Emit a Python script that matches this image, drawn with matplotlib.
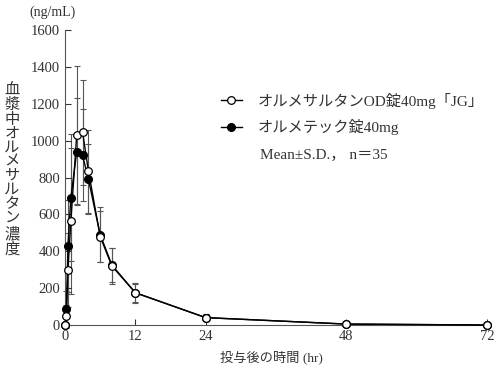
import matplotlib
matplotlib.use("Agg")
import matplotlib.pyplot as plt

plt.rcParams['font.family'] = ['Liberation Serif', 'Noto Sans CJK JP']

# 時間 (hr)
hours = [0, 0.25, 0.5, 1, 2, 3, 4, 6, 8, 12, 24, 48, 72]

# オルメサルタンOD錠40mg「JG」
odMean = [0, 50, 300, 565, 1030, 1045, 835, 480, 320, 175, 40, 5, 0]
odSd = [0, 60, 200, 395, 375, 283, 225, 140, 95, 55, 18, 4, 0]

# オルメテック錠40mg
refMean = [0, 85, 430, 690, 940, 920, 790, 490, 325, 175, 40, 5, 0]
refSd = [0, 100, 250, 345, 290, 250, 190, 150, 90, 50, 18, 4, 0]

xTicks = [0, 12, 24, 48, 72]
yTicks = [0, 200, 400, 600, 800, 1000, 1200, 1400, 1600]

textColor = "#333333"

fig = plt.figure(figsize=(4.96, 3.76), dpi=100)
ax = fig.add_axes([65 / 496, 51 / 376, 422 / 496, 295 / 376])

errStyle = dict(ecolor="#555555", elinewidth=0.8, capsize=2.5, capthick=0.8, fmt="none", zorder=1)
ax.errorbar(hours, refMean, yerr=refSd, **errStyle)
ax.errorbar(hours, odMean, yerr=odSd, **errStyle)

ax.plot(hours, refMean, color="black", lw=1.0, marker="o", ms=5.5,
        mfc="black", mec="black", zorder=3, label="オルメテック錠40mg")
ax.plot(hours, odMean, color="black", lw=1.0, marker="o", ms=5.5,
        mfc="white", mec="black", mew=0.9, zorder=4, label="オルメサルタンOD錠40mg「JG」")

ax.set_xlim(0, 72)
ax.set_ylim(0, 1600)
ax.set_xticks(xTicks)
ax.set_yticks(yTicks)
ax.tick_params(direction="in", length=4, width=0.8, labelsize=10.5, colors=textColor, labelcolor=textColor)
ax.spines["top"].set_visible(False)
ax.spines["right"].set_visible(False)
for s in ("left", "bottom"):
    ax.spines[s].set_color("#555555")
    ax.spines[s].set_linewidth(0.8)
for m in ax.get_children():
    m.set_clip_on(False)

fig.text(271 / 496, 1 - 357 / 376, "投与後の時間 (hr)", fontsize=9.5, color=textColor,
         va="center", ha="center")
fig.text(29 / 496, 1 - 12 / 376, "(ng/mL)", fontsize=10, color=textColor, va="center", ha="left")
fig.text(12 / 496, 1 - 170 / 376, "\n".join("血漿中オルメサルタン濃度"), fontsize=11,
         color=textColor, va="center", ha="center", linespacing=1.1)

handles, labels = ax.get_legend_handles_labels()
ax.legend(handles[::-1], labels[::-1], loc="upper left", bbox_to_anchor=(0.336, 0.834),
          frameon=False, fontsize=11, handlelength=1.4, handletextpad=1.0,
          labelspacing=0.7, labelcolor=textColor)
ax.text(0.462, 0.575, "Mean±S.D.， n＝35", transform=ax.transAxes, fontsize=11,
        color=textColor, va="center", ha="left")

fig.savefig("out.png", dpi=100)
